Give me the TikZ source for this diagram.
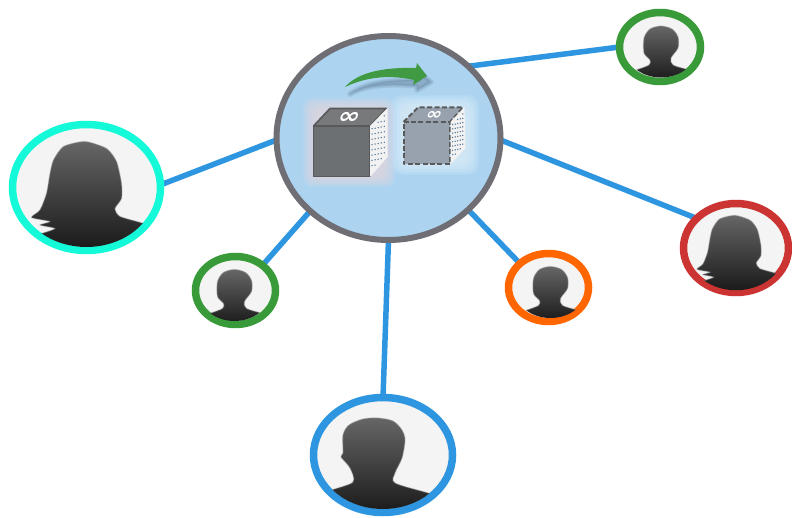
\documentclass[tikz,border=0pt]{standalone}
\usepackage{fontspec}
\newfontfamily\inffont{DejaVu Sans}
\usetikzlibrary{shapes.geometric,backgrounds}
\definecolor{hubline}{HTML}{6E6E74}
\definecolor{hubfill}{HTML}{ACD4F1}
\definecolor{linkblue}{HTML}{2E96E0}
\definecolor{uteal}{HTML}{14FAD8}
\definecolor{ugreen}{HTML}{389A38}
\definecolor{ured}{HTML}{CC3333}
\definecolor{uorange}{HTML}{FF6600}
\definecolor{uface}{HTML}{F4F4F4}
\definecolor{arrowgreen}{HTML}{3F9A43}
\definecolor{halopink}{HTML}{E4D6DE}
\definecolor{haloblue}{HTML}{DCEEFA}
\definecolor{cubefront}{HTML}{6D7072}
\definecolor{cubetop}{HTML}{77797B}
\definecolor{cubeedge}{HTML}{58595B}
\definecolor{ghostfill}{HTML}{98A2AE}
\definecolor{meshdot}{HTML}{4F7396}
\definecolor{shadowblue}{HTML}{6F8DA6}
\tikzset{
  x=1pt,y=-1pt,
  hubnode/.style={ellipse,draw=hubline,fill=hubfill,line width=6pt,inner sep=0pt,outer sep=0pt,minimum width=224pt,minimum height=204pt},
  usernode/.style={ellipse,fill=uface,line width=7.5pt,inner sep=0pt,outer sep=0pt},
  link/.style={linkblue,line width=5.5pt},
  sil/.style={top color=black!60,bottom color=black!92,draw=black!40,draw opacity=.35,line width=1.2pt},
  ghostline/.style={draw=cubeedge,dash pattern=on 5pt off 2.4pt,line width=2pt,line join=round},
  inflabel/.style={text=white,inner sep=0pt,font=\inffont\bfseries},
}
\newcommand{\silmale}[3]{%
  \begin{scope}[shift={(#1.center)},xscale=#2,yscale=#3]
    \clip (0,0) ellipse [x radius=66,y radius=54];
    \shade[sil] plot[smooth cycle,tension=.5] coordinates {(-64,42)(-51,35)(-30,27)(-33,13)(-42,2)(-40,-2)(-40,-20)(-34,-30)(-20,-36)(-5,-37)(10,-34)(19,-25)(22,-15)(19,3)(12,18)(12,28)(45,38)(62,44)(62,62)(-64,62)};
  \end{scope}}
\newcommand{\silsmall}[2]{%
  \begin{scope}[shift={(#1.center)},xshift=#2]
    \clip (0,0) ellipse [x radius=36.5,y radius=30.5];
    \shade[sil] plot[smooth cycle,tension=.5] coordinates {(-36,26)(-25,23)(-12,18)(-11,13)(-17,6)(-17,-9)(-11,-18)(0,-21)(11,-18)(17,-10)(17,1)(10,11)(12,18)(28,23)(38,27)(38,36)(-36,36)};
  \end{scope}}
\newcommand{\silfemale}[3]{%
  \begin{scope}[shift={(#1.center)},xscale=#2,yscale=#3]
    \clip (0,0) ellipse [x radius=70.5,y radius=59.5];
    \shade[sil] plot[smooth cycle,tension=.4] coordinates {(-66,52)(-45,46)(-31.5,41)(-46.5,37.5)(-36.5,34)(-55,30)(-46.5,22.5)(-40,6)(-36.5,-14)(-33,-27.5)(-23,-41)(-1.5,-46)(20,-39)(30,-26)(35,-4)(35,11)(28.5,21)(33.5,29)(57,36)(74,44)(74,66)(-66,66)};
  \end{scope}}
\newcommand{\meshside}[4]{% x0, ytop, height, width
  \foreach \mu/\mo in {.12/0,.3/.055,.48/0,.66/.055,.84/0}{
    \foreach \mv in {.06,.17,.28,.39,.5,.61,.72,.83}{
      \fill[meshdot] ({#1+#4*\mu},{#2-#4*1.05*\mu+#3*(\mv+\mo)}) circle[radius=.75];
    }}}
\begin{document}
\begin{tikzpicture}
\useasboundingbox (0,0) rectangle (792,518);
\node[hubnode] (hub) at (388.5,138) {};
\node[usernode,draw=uteal,minimum width=148pt,minimum height=126pt] (teal) at (86.5,187.5) {};
\node[usernode,draw=ugreen,minimum width=81pt,minimum height=69pt] (top) at (660,47) {};
\node[usernode,draw=ured,minimum width=105pt,minimum height=89pt] (red) at (736,248) {};
\node[usernode,draw=uorange,minimum width=80pt,minimum height=68pt] (orange) at (548.5,287.5) {};
\node[usernode,draw=ugreen,minimum width=80pt,minimum height=68pt] (green) at (235.5,290.5) {};
\node[usernode,draw=linkblue,minimum width=139pt,minimum height=115pt] (blue) at (383,455) {};
\begin{pgfonlayer}{background}
\draw[link] (hub.181) -- (teal.2);
\draw[link] (hub.223) -- (green.43);
\draw[link] (hub.270) -- (blue.90);
\draw[link] (hub.-42) -- (orange.140);
\draw[link] (hub.-1) -- (red.143);
\draw[link] (hub.42) -- (top.180);
\end{pgfonlayer}
\silfemale{teal}{1}{1}
\silsmall{top}{1pt}
\silfemale{red}{.71}{.71}
\silsmall{orange}{2pt}
\silsmall{green}{-1pt}
\silmale{blue}{1}{1}
% halos
\foreach \g in {-2,-.5,...,10}{
  \fill[halopink,opacity=.16,rounded corners=9] ({305+\g},{100+\g}) rectangle ({393-\g},{185-\g});
  \fill[haloblue,opacity=.16,rounded corners=11] ({393+\g},{97+\g}) rectangle ({477-\g},{173-\g});
}
% arrow shadow
\foreach \g in {0,1,2,3}{
  \fill[shadowblue,opacity=.14,line join=round,draw=shadowblue,line width={(4-\g)*1.5pt}]
    (350,94) .. controls (368,81) and (392,80) .. (420,80) -- (420,73) -- (431,82) -- (417,90) -- (417,86) .. controls (392,84) and (368,84) .. (350,94) -- cycle;
}
% arrow
\fill[arrowgreen] (345,87) .. controls (358,72) and (385,67) .. (416,68) -- (417,63) -- (427,76) -- (413,85) -- (414,80) .. controls (392,75) and (368,76) .. (345,87) -- cycle;
% dark cube
\fill[cubefront,draw=cubeedge,line width=1.6pt,line join=round] (313.5,126) rectangle (370,176.5);
\fill[cubetop,draw=cubeedge,line width=1.6pt,line join=round] (313.5,126) -- (330,108.5) -- (386.5,108.5) -- (370,126) -- cycle;
\fill[white!95!black] (370,126) -- (387.5,108) -- (387.5,157) -- (370,177) -- cycle;
\meshside{370}{128}{48}{17}
\node[inflabel,cm={2.6,0,.8,2.2,(349,117.5)},transform shape] (infa) at (0,0) {∞};
% light cube
\fill[ghostfill] (403.5,122) rectangle (450,164);
\fill[ghostfill] (403.5,122) -- (418,107.5) -- (463,107.5) -- (450,122) -- cycle;
\draw[ghostline] (403.5,122) -- (450,122) -- (450,164) -- (403.5,164) -- cycle;
\draw[ghostline] (403.5,122) -- (418,107.5) -- (463,107.5) -- (450,122);
\fill[white!95!black] (450.5,122) -- (464.5,107) -- (465.5,148) -- (450.5,164) -- cycle;
\meshside{451}{124}{39}{14}
\node[inflabel,cm={1.9,0,.6,1.6,(434,115)},transform shape] (infb) at (0,0) {∞};
\end{tikzpicture}
\end{document}
